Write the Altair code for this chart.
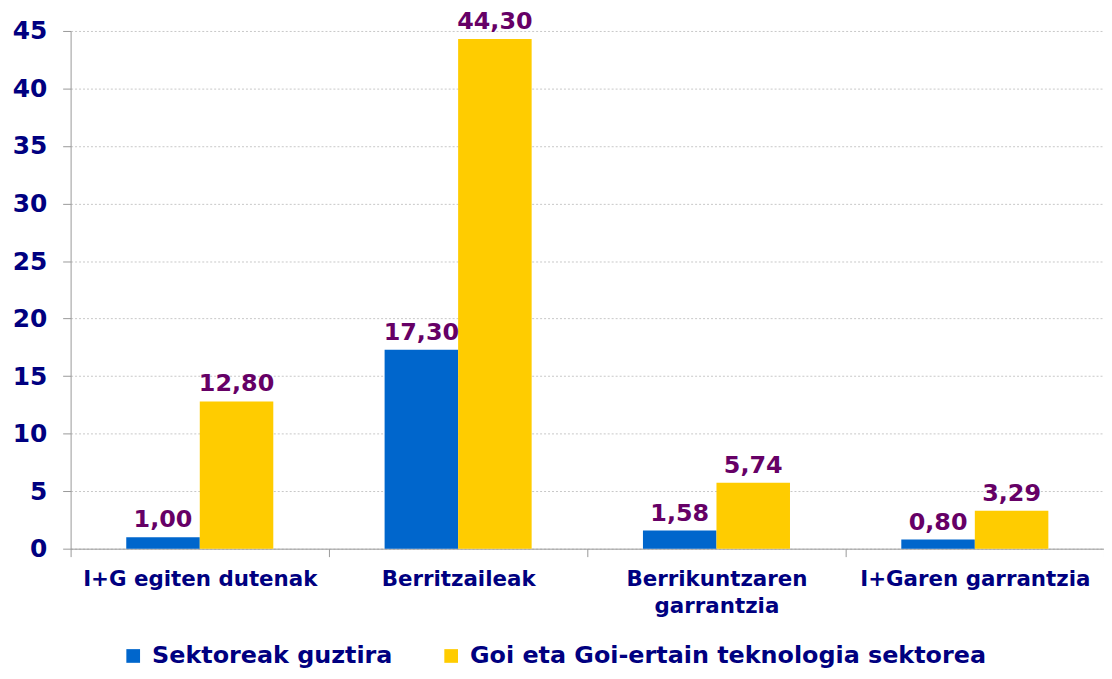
import altair as alt
import pandas as pd

categories = ["I+G egiten dutenak", "Berritzaileak", "Berrikuntzaren garrantzia", "I+Garen garrantzia"]
series = ["Sektoreak guztira", "Goi eta Goi-ertain teknologia sektorea"]
values_total = [1.00, 17.30, 1.58, 0.80]
values_high = [12.80, 44.30, 5.74, 3.29]
colors = ["#0066CC", "#FFCC00"]

rows = []
for c, v in zip(categories, values_total):
    rows.append({"cat": c, "series": series[0], "value": v})
for c, v in zip(categories, values_high):
    rows.append({"cat": c, "series": series[1], "value": v})
df = pd.DataFrame(rows)
df["label"] = df["value"].map(lambda v: f"{v:.2f}".replace(".", ","))

FONT = "DejaVu Sans"
NAVY = "#000080"

x = alt.X("cat:N", sort=categories, title=None,
          scale=alt.Scale(paddingInner=0, paddingOuter=0),
          axis=alt.Axis(labelAngle=0, labelFont=FONT, labelFontWeight="bold", labelFontSize=21.5,
                        labelColor=NAVY, tickBand="extent", tickSize=8, tickColor="#999999",
                        domainColor="#999999", labelPadding=12, labelLineHeight=27, labelLimit=0,
                        labelExpr="datum.label == 'Berrikuntzaren garrantzia' ? ['Berrikuntzaren', 'garrantzia'] : datum.label"))
xo = alt.XOffset("series:N", sort=series, scale=alt.Scale(paddingInner=0, paddingOuter=0.757))
y = alt.Y("value:Q", title=None,
          scale=alt.Scale(domain=[0, 45], nice=False),
          axis=alt.Axis(values=list(range(0, 50, 5)), labelFont=FONT, labelFontWeight="bold",
                        labelFontSize=25, labelColor=NAVY, tickSize=8, tickColor="#999999",
                        domainColor="#999999", labelPadding=16,
                        gridColor="#C8C8C8", gridDash=[2, 2], gridWidth=1))
color = alt.Color("series:N", sort=series, scale=alt.Scale(domain=series, range=colors),
                  legend=alt.Legend(orient="none", legendX=51, legendY=617, direction="horizontal",
                                    title=None, labelFont=FONT, labelFontWeight="bold", labelFontSize=24,
                                    labelColor=NAVY, symbolType="square", symbolSize=190,
                                    symbolStrokeWidth=0, columnPadding=46, labelOffset=7,
                                    labelLimit=0))

bars = alt.Chart(df).mark_bar(stroke=None).encode(x=x, xOffset=xo, y=y, color=color)
text = alt.Chart(df).mark_text(baseline="alphabetic", dy=-10, font=FONT, fontWeight="bold",
                               fontSize=24, color="#660066").encode(
    x=x, xOffset=xo, y=y, text="label:N")

chart = alt.layer(bars, text).properties(
    width=1040, height=521,
    autosize=alt.AutoSizeParams(type="none"),
    padding={"left": 63, "top": 21, "right": 0, "bottom": 121},
).configure_view(stroke=None).configure_axis(grid=False).configure_axisY(grid=True)

chart.save("out.html", embed_options={"renderer": "svg", "actions": False})
